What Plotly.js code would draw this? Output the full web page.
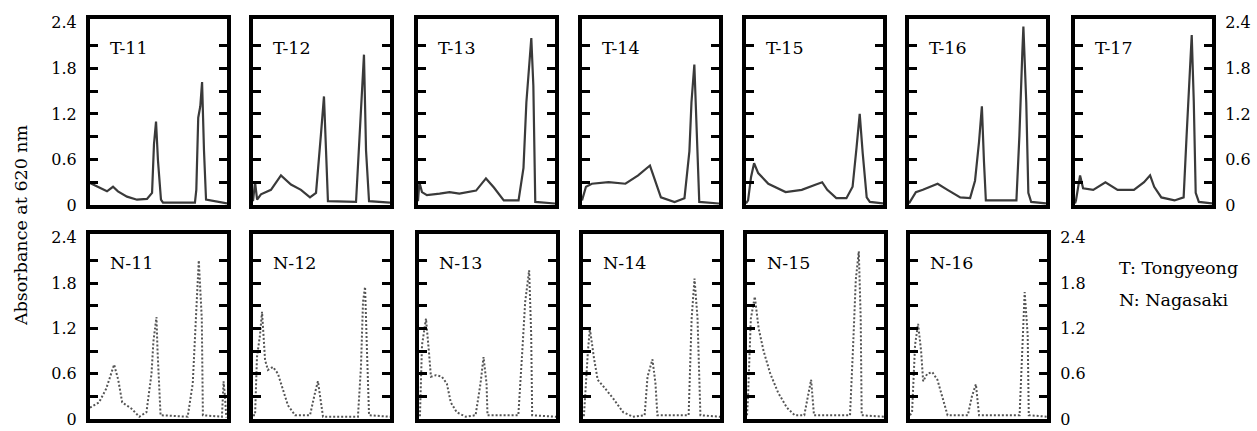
<!DOCTYPE html>
<html>
<head>
<meta charset="utf-8">
<script src="https://cdn.plot.ly/plotly-3.0.1.min.js"></script>
<style>html,body{margin:0;padding:0;background:#fff}#chart{width:1257px;height:431px}</style>
</head>
<body>
<div id="chart"></div>
<script>
// ---- data (x: relative elution position 0-100, y: absorbance at 620 nm) ----
const T11_x = [0, 7.3, 12.4, 16.8, 20.4, 27, 34.3, 41.6, 45.3, 46.7, 48.2, 49.6, 51.8, 53.3, 76.6, 77.6, 79, 80.5, 81.8, 83.2, 84.7, 100];
const T11_y = [0.29, 0.22, 0.18, 0.24, 0.18, 0.11, 0.07, 0.08, 0.16, 0.8, 1.1, 0.59, 0.07, 0.03, 0.03, 0.2, 1.15, 1.3, 1.62, 0.72, 0.07, 0.02];
const T12_x = [0, 1.5, 3, 5.8, 13.1, 20.4, 27.7, 35, 41.6, 46, 49.6, 51.8, 53.3, 54.7, 75.2, 78.1, 81, 82.5, 84.7, 100];
const T12_y = [0.05, 0.3, 0.07, 0.14, 0.2, 0.39, 0.27, 0.2, 0.1, 0.16, 0.93, 1.43, 0.72, 0.05, 0.04, 0.93, 1.98, 0.72, 0.05, 0.03];
const T13_x = [0, 1, 2.9, 6.5, 15.8, 23, 30.2, 42.4, 49.6, 55.4, 62.6, 73.4, 77, 79.1, 82.7, 84.2, 85.6, 100];
const T13_y = [0.05, 0.3, 0.17, 0.13, 0.15, 0.17, 0.15, 0.19, 0.35, 0.23, 0.06, 0.06, 0.49, 1.35, 2.2, 1.57, 0.04, 0.02];
const T14_x = [0, 2.9, 7.2, 19.4, 31.7, 41, 49.6, 53.2, 57.6, 67.6, 74.8, 78.4, 79.9, 82, 84.2, 85.6, 100];
const T14_y = [0.06, 0.24, 0.28, 0.3, 0.28, 0.39, 0.52, 0.32, 0.1, 0.04, 0.09, 0.71, 1.35, 1.85, 0.71, 0.04, 0.02];
const T15_x = [0, 1.5, 3.7, 5.9, 8.9, 16.3, 28.9, 40.7, 51.1, 55.6, 59.3, 65.9, 73.3, 77.8, 80.7, 83, 85.2, 88.1, 90.4, 100];
const T15_y = [0.02, 0.06, 0.37, 0.55, 0.42, 0.28, 0.17, 0.2, 0.27, 0.3, 0.2, 0.09, 0.09, 0.24, 0.76, 1.2, 0.68, 0.1, 0.04, 0.02];
const T16_x = [0, 1.4, 5, 10.1, 20.9, 28.1, 37.4, 44.6, 48.2, 51.1, 53.2, 54.7, 56.1, 78.4, 80.6, 82.7, 83.5, 85.6, 87.1, 89.2, 100];
const T16_y = [0.02, 0.06, 0.17, 0.2, 0.28, 0.2, 0.1, 0.09, 0.32, 0.83, 1.3, 0.58, 0.06, 0.06, 0.92, 2.0, 2.35, 1.35, 0.16, 0.04, 0.02];
const T17_x = [0, 0.7, 3.7, 5.9, 13.3, 22.2, 31.1, 43, 50.4, 54.8, 57.8, 63, 72.6, 79.3, 81.5, 83.7, 85.2, 86.7, 88.1, 90.4, 100];
const T17_y = [0.02, 0.06, 0.39, 0.22, 0.2, 0.3, 0.2, 0.2, 0.3, 0.39, 0.24, 0.1, 0.06, 0.1, 0.93, 1.79, 2.24, 1.36, 0.16, 0.04, 0.02];

const N11_x = [0, 6.6, 11.8, 17.6, 20.6, 23.5, 30.1, 36, 41.2, 44.9, 46.3, 48.5, 49.3, 51.5, 71.3, 75, 77.9, 79.4, 81.6, 82.4, 96.3, 97.5, 98.5, 99.5];
const N11_y = [0.15, 0.22, 0.4, 0.72, 0.52, 0.22, 0.14, 0.03, 0.09, 0.6, 1.03, 1.35, 0.9, 0.05, 0.03, 0.47, 1.55, 2.1, 1.33, 0.05, 0.03, 0.5, 0.3, 0.02];
const N12_x = [0, 1.5, 2.9, 5.1, 6.6, 8.8, 10.9, 14.6, 18.2, 21.9, 25.5, 30.7, 41.6, 45.3, 47.4, 49.6, 51.1, 76.6, 78.8, 80.3, 81.8, 83.2, 84.7, 100];
const N12_y = [0.05, 0.05, 0.82, 1.11, 1.42, 0.78, 0.65, 0.69, 0.6, 0.4, 0.18, 0.05, 0.05, 0.35, 0.5, 0.22, 0.03, 0.03, 0.69, 1.55, 1.75, 0.9, 0.05, 0.03];
const N13_x = [0, 0.7, 2.2, 5.1, 7.2, 8.7, 12.3, 16.7, 20.3, 23.2, 27.5, 34.1, 41.3, 44.9, 47.1, 49.3, 50, 72.5, 75.4, 77.5, 80.4, 81.9, 82.6, 100];
const N13_y = [0.05, 0.05, 0.98, 1.33, 0.9, 0.56, 0.58, 0.56, 0.47, 0.22, 0.09, 0.03, 0.05, 0.47, 0.82, 0.47, 0.05, 0.05, 0.9, 1.55, 1.97, 1.11, 0.05, 0.03];
const N14_x = [0, 0.7, 3.6, 5, 7.9, 10.7, 15, 22.1, 29.3, 36.4, 45, 47.1, 50.7, 52.9, 54.3, 77.1, 79.3, 81.4, 83.6, 85.7, 100];
const N14_y = [0.05, 0.05, 0.9, 1.2, 0.82, 0.52, 0.43, 0.27, 0.09, 0.03, 0.05, 0.56, 0.79, 0.47, 0.05, 0.05, 1.33, 1.86, 1.33, 0.05, 0.03];
const N15_x = [0, 0.7, 2.8, 5.7, 8.5, 12.1, 17, 22.7, 29.1, 34.8, 41.8, 45.4, 46.8, 48.9, 75.2, 77.3, 79.4, 81.6, 83, 83.7, 100];
const N15_y = [0.05, 0.27, 1.33, 1.62, 1.2, 0.9, 0.6, 0.35, 0.15, 0.05, 0.05, 0.4, 0.52, 0.05, 0.05, 0.9, 1.84, 2.22, 1.33, 0.05, 0.03];
const N16_x = [0, 1.5, 3.7, 5.9, 8.1, 9.6, 12.6, 16.3, 20, 23.7, 27.4, 42.2, 45.2, 48.1, 50.4, 80, 82.2, 83.7, 85.9, 86.7, 100];
const N16_y = [0.05, 0.09, 0.98, 1.26, 0.9, 0.5, 0.6, 0.62, 0.52, 0.27, 0.05, 0.05, 0.3, 0.46, 0.05, 0.05, 0.9, 1.68, 1.11, 0.05, 0.03];

const panelNames = ['T-11','T-12','T-13','T-14','T-15','T-16','T-17','N-11','N-12','N-13','N-14','N-15','N-16'];
const panelX = [T11_x,T12_x,T13_x,T14_x,T15_x,T16_x,T17_x,N11_x,N12_x,N13_x,N14_x,N15_x,N16_x];
const panelY = [T11_y,T12_y,T13_y,T14_y,T15_y,T16_y,T17_y,N11_y,N12_y,N13_y,N14_y,N15_y,N16_y];
const tickVals = [0, 0.6, 1.2, 1.8, 2.4];
const tickText = ['0', '0.6', '1.2', '1.8', '2.4'];
const minorVals = [0.3, 0.9, 1.5, 2.1, 0.6, 1.2, 1.8];
const yTitle = 'Absorbance at 620 nm';
const legendLines = ['T: Tongyeong', 'N: Nagasaki'];

// ---- geometry (pixels) ----
const W = 1257, H = 431, PW = 137;
const topLefts = [90, 253, 418, 582, 746, 909, 1075];
const botLefts = [90, 253, 419, 583, 747, 910];
const rowY = [[19, 205], [234, 419]];
const FONT = 'DejaVu Serif';

const traces = [];
const layout = {
  width: W, height: H,
  margin: {l: 0, r: 0, t: 0, b: 0},
  paper_bgcolor: '#fff', plot_bgcolor: '#fff',
  showlegend: false,
  font: {family: FONT, size: 16, color: '#000'},
  annotations: []
};

panelNames.forEach((name, i) => {
  const top = i < 7;
  const left = top ? topLefts[i] : botLefts[i - 7];
  const [yt, yb] = top ? rowY[0] : rowY[1];
  const n = i + 1;
  const xa = 'x' + (n === 1 ? '' : n), ya = 'y' + (n === 1 ? '' : n);
  traces.push({
    type: 'scatter', mode: 'lines', x: panelX[i], y: panelY[i],
    xaxis: xa, yaxis: ya, hoverinfo: 'skip',
    line: top ? {color: '#3a3a3a', width: 2.2} : {color: '#555', width: 2, dash: '2px,2px'}
  });
  const showLeft = (i === 0 || i === 7);
  const showRight = (i === 6 || i === 12);
  layout['xaxis' + (n === 1 ? '' : n)] = {
    domain: [left / W, (left + PW) / W], anchor: ya, range: [0, 100],
    showline: true, linewidth: 4, linecolor: '#000', mirror: true,
    showgrid: false, zeroline: false, showticklabels: false, ticks: '', fixedrange: true
  };
  layout['yaxis' + (n === 1 ? '' : n)] = {
    domain: [1 - yb / H, 1 - yt / H], anchor: xa, range: [0, 2.45],
    side: showRight ? 'right' : 'left',
    showline: true, linewidth: 4, linecolor: '#000', mirror: 'ticks',
    showgrid: false, zeroline: false,
    tickmode: 'array', tickvals: tickVals, ticktext: tickText,
    showticklabels: showLeft || showRight,
    ticks: '', ticklabelstandoff: 6,
    tickfont: {family: FONT, size: 16, color: '#000'},
    minor: {tickmode: 'array', tickvals: minorVals, ticks: 'inside', ticklen: 8, tickwidth: 3, tickcolor: '#000', showgrid: false},
    fixedrange: true
  };
  layout.annotations.push({
    xref: 'paper', yref: 'paper', x: (left + 18) / W, y: 1 - (yt + 29) / H,
    xanchor: 'left', yanchor: 'middle', text: name, showarrow: false,
    font: {family: FONT, size: 17.5, color: '#000'}
  });
});

layout.annotations.push({
  xref: 'paper', yref: 'paper', x: 21 / W, y: 1 - 225 / H,
  xanchor: 'center', yanchor: 'middle', textangle: -90, text: yTitle, showarrow: false,
  font: {family: FONT, size: 17.5, color: '#000'}
});
legendLines.forEach((t, k) => {
  layout.annotations.push({
    xref: 'paper', yref: 'paper', x: 1117 / W, y: 1 - (268 + 32 * k) / H,
    xanchor: 'left', yanchor: 'middle', text: t, showarrow: false,
    font: {family: FONT, size: 17.5, color: '#000'}
  });
});

Plotly.newPlot('chart', traces, layout, {staticPlot: true, displayModeBar: false});
</script>
</body>
</html>
